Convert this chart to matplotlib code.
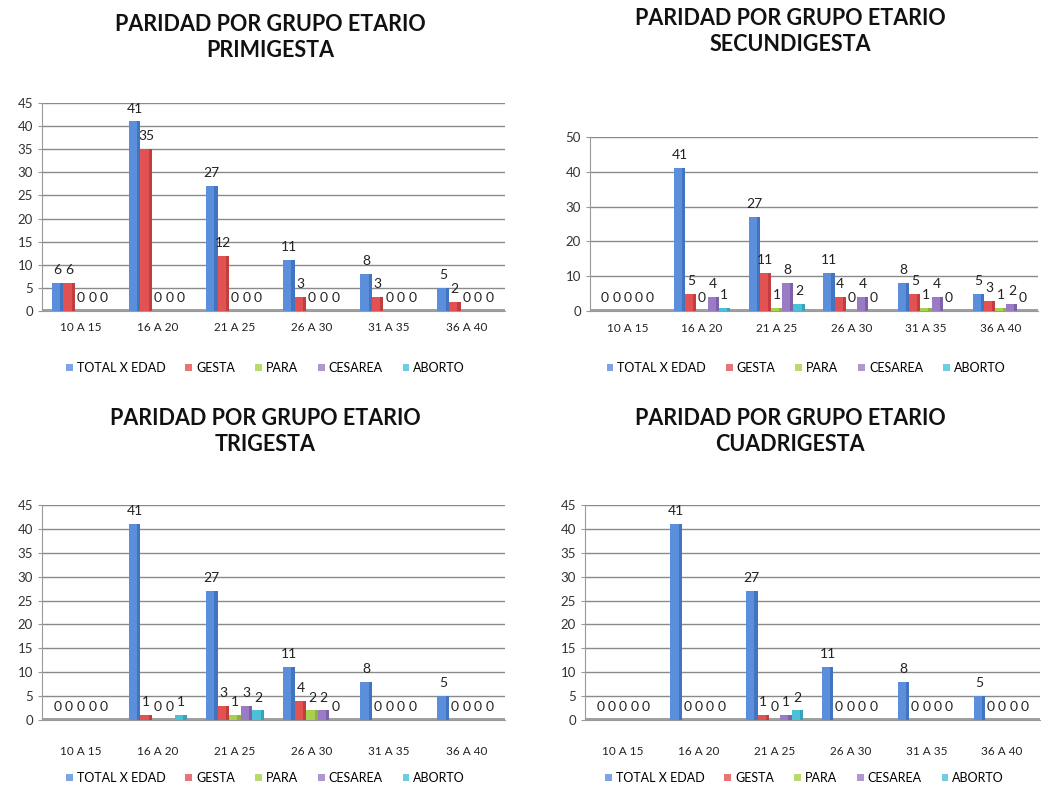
import matplotlib
matplotlib.use("Agg")
import matplotlib.pyplot as plt
from matplotlib.patches import Patch
import numpy as np

plt.rcParams['font.family'] = ['Lato', 'DejaVu Sans']

categories = ["10 A 15", "16 A 20", "21 A 25", "26 A 30", "31 A 35", "36 A 40"]
series_names = ["TOTAL X EDAD", "GESTA", "PARA", "CESAREA", "ABORTO"]
colors = ["#5b8fdb", "#e25252", "#a9d04c", "#9a7cc6", "#4cc0d9"]
side_colors = ["#2f5fa8", "#a82e2e", "#7a9a2e", "#664d8f", "#2a8aa0"]

primigesta_total = [6, 41, 27, 11, 8, 5]
primigesta_gesta = [6, 35, 12, 3, 3, 2]
primigesta_para = [0, 0, 0, 0, 0, 0]
primigesta_cesarea = [0, 0, 0, 0, 0, 0]
primigesta_aborto = [0, 0, 0, 0, 0, 0]

secundigesta_total = [0, 41, 27, 11, 8, 5]
secundigesta_gesta = [0, 5, 11, 4, 5, 3]
secundigesta_para = [0, 0, 1, 0, 1, 1]
secundigesta_cesarea = [0, 4, 8, 4, 4, 2]
secundigesta_aborto = [0, 1, 2, 0, 0, 0]

trigesta_total = [0, 41, 27, 11, 8, 5]
trigesta_gesta = [0, 1, 3, 4, 0, 0]
trigesta_para = [0, 0, 1, 2, 0, 0]
trigesta_cesarea = [0, 0, 3, 2, 0, 0]
trigesta_aborto = [0, 1, 2, 0, 0, 0]

cuadrigesta_total = [0, 41, 27, 11, 8, 5]
cuadrigesta_gesta = [0, 0, 1, 0, 0, 0]
cuadrigesta_para = [0, 0, 0, 0, 0, 0]
cuadrigesta_cesarea = [0, 0, 1, 0, 0, 0]
cuadrigesta_aborto = [0, 0, 2, 0, 0, 0]

charts = [
    ("PARIDAD POR GRUPO ETARIO\nPRIMIGESTA",
     [primigesta_total, primigesta_gesta, primigesta_para, primigesta_cesarea, primigesta_aborto],
     45, 5, (42, 505, 103, 311), (270, 14), 325, 368),
    ("PARIDAD POR GRUPO ETARIO\nSECUNDIGESTA",
     [secundigesta_total, secundigesta_gesta, secundigesta_para, secundigesta_cesarea, secundigesta_aborto],
     50, 10, (590, 1038, 137, 311), (790, 8), 326, 368),
    ("PARIDAD POR GRUPO ETARIO\nTRIGESTA",
     [trigesta_total, trigesta_gesta, trigesta_para, trigesta_cesarea, trigesta_aborto],
     45, 5, (42, 505, 505, 720), (265, 408), 745, 778),
    ("PARIDAD POR GRUPO ETARIO\nCUADRIGESTA",
     [cuadrigesta_total, cuadrigesta_gesta, cuadrigesta_para, cuadrigesta_cesarea, cuadrigesta_aborto],
     45, 5, (585, 1040, 505, 720), (790, 408), 745, 778),
]

W, H = 1041, 789
fig = plt.figure(figsize=(W / 100, H / 100), dpi=100)
fig.patch.set_facecolor("white")

bw = 0.15
x = np.arange(len(categories))

for title, series, ymax, ystep, (l, r, t, b), (tx, ty), cat_y, leg_y in charts:
    ax = fig.add_axes([l / W, (H - b) / H, (r - l) / W, (b - t) / H])
    ax.set_xlim(-0.5, len(categories) - 0.5)
    ax.set_ylim(0, ymax)
    ax.set_yticks(np.arange(0, ymax + 1, ystep))
    ax.tick_params(axis='y', labelsize=9.5, colors="#333333", length=3, color="#999999")
    ax.set_xticks(x)
    ax.set_xticklabels(categories)
    ax.tick_params(axis='x', labelsize=8.5, colors="#222222", length=0,
                   pad=(cat_y - b) - 6)
    for s in ["top", "right"]:
        ax.spines[s].set_visible(False)
    ax.spines["left"].set_color("#9a9a9a")
    ax.spines["bottom"].set_color("#9a9a9a")
    ax.yaxis.grid(True, color="#8a8a8a", linewidth=1.0)
    ax.set_axisbelow(True)
    # floor strip under the bars
    ax.axhspan(0, ymax * 0.01, color="#a0a0a0", zorder=1, lw=0)

    n = len(series)
    for k, vals in enumerate(series):
        pos = x + (k - (n - 1) / 2) * bw
        ax.bar(pos, vals, width=bw, color=colors[k], edgecolor="none", zorder=3)
        # darker side strip for depth
        ax.bar(pos + bw * 0.36, vals, width=bw * 0.28, color=side_colors[k],
               alpha=0.55, edgecolor="none", zorder=4)
        for p, v in zip(pos, vals):
            ax.annotate(str(v), (p, v), xytext=(0, 5), textcoords="offset points",
                        ha="center", va="bottom", fontsize=10, color="#222222", zorder=5)

    fig.text(tx / W, 1 - ty / H, title, ha="center", va="top", fontsize=15.5,
             fontweight="bold", color="#111111", linespacing=1.3)

    handles = [Patch(facecolor=c, edgecolor="none", alpha=0.8) for c in colors]
    fig.legend(handles, series_names, loc="center",
               bbox_to_anchor=(((l + r) / 2 - 8) / W, 1 - leg_y / H),
               ncol=5, frameon=False, fontsize=9, handlelength=0.55, handleheight=0.55,
               handletextpad=0.3, columnspacing=1.6)

fig.savefig("out.png", dpi=100, facecolor="white")
